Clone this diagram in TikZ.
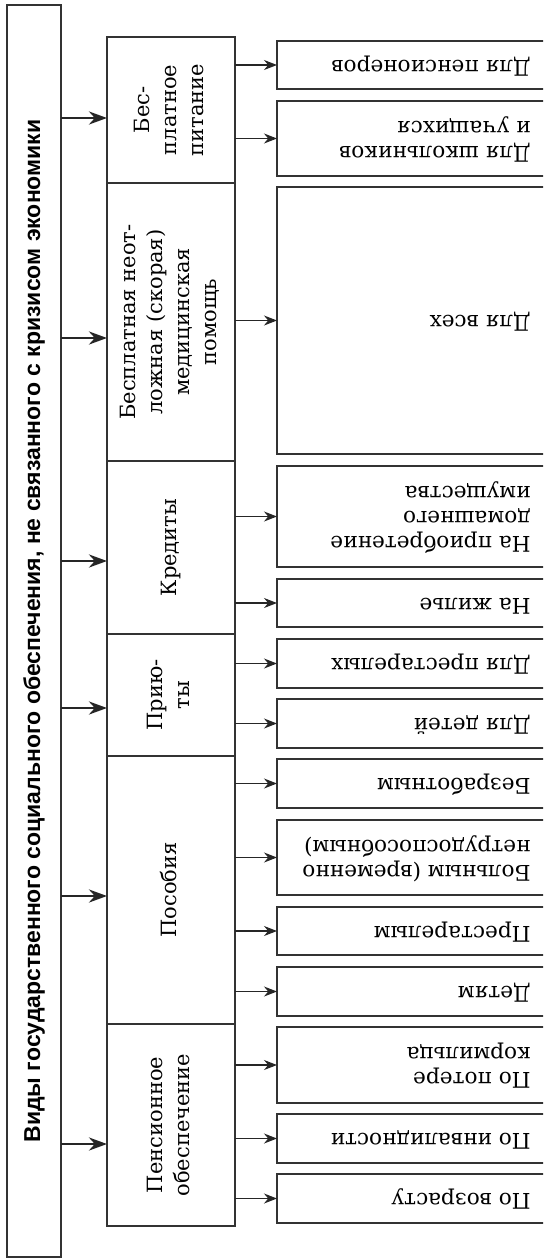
\documentclass[tikz,border=0pt]{standalone}
\usepackage{fontspec}
\setmainfont{DejaVu Serif}
\newfontfamily\headfont{Liberation Sans}
\usepackage{graphicx}
\usetikzlibrary{arrows.meta}

\tikzset{
  box/.style={draw=black!80, line width=0.8pt, inner sep=0pt, outer sep=0pt,
    minimum width=64pt, font=\fontsize{10.5}{13.5}\selectfont},
  rbox/.style={draw=black!80, line width=0.8pt, inner sep=0pt, outer sep=0pt,
    minimum width=141.5pt, anchor=west},
  rtext/.style={inner sep=0pt, anchor=east, font=\fontsize{10.8}{12.5}\selectfont},
  bigarrow/.style={draw=black!85, line width=1.4pt, -{Stealth[length=9pt,width=6.5pt]}},
  smallarrow/.style={draw=black!85, line width=0.6pt, -{Stealth[length=6.5pt,width=5pt]}}
}
\newcommand{\vtext}[1]{\rotatebox{90}{\begin{tabular}{@{}c@{}}#1\end{tabular}}}
\newcommand{\utext}[1]{\rotatebox{180}{\begin{tabular}{@{}l@{}}#1\end{tabular}}}

\begin{document}
\begin{tikzpicture}[x=0.5pt,y=0.5pt,yscale=-1,xscale=1]
\useasboundingbox (0,0) rectangle (543,1258);
\clip (0,0) rectangle (543,1258);

% Title box
\node [draw=black!80, line width=0.8pt, inner sep=0pt, outer sep=0pt,
  minimum width=27pt, minimum height=626pt] (vidy) at (34,631)
  {\rotatebox{90}{\headfont\bfseries\fontsize{11.5}{13}\selectfont Виды государственного социального обеспечения, не связанного с кризисом экономики}};

% Middle column
\node [box, minimum height=73pt] (pit) at (171,110) {\vtext{Бес-\\платное\\питание}};
\node [box, minimum height=139pt] (med) at (171,322) {\vtext{Бесплатная неот-\\ложная (скорая)\\медицинская\\помощь}};
\node [box, minimum height=86.5pt] (kred) at (171,547.5) {\vtext{Кредиты}};
\node [box, minimum height=61pt] (priut) at (171,695) {\vtext{Прию-\\ты}};
\node [box, minimum height=134pt] (posob) at (171,890) {\vtext{Пособия}};
\node [box, minimum height=101pt] (pens) at (171,1125) {\vtext{Пенсионное\\обеспечение}};

% Right column
\node [rbox, minimum height=24pt] (penser) at (277,65) {};
\node [rbox, minimum height=37.5pt] (shkol) at (277,138.5) {};
\node [rbox, minimum height=133.5pt] (vseh) at (277,320.5) {};
\node [rbox, minimum height=50.5pt] (imush) at (277,516.5) {};
\node [rbox, minimum height=24pt] (zhil) at (277,603) {};
\node [rbox, minimum height=24.5pt] (prest) at (277,663.5) {};
\node [rbox, minimum height=24.5pt] (detei) at (277,723.5) {};
\node [rbox, minimum height=24.5pt] (bezrab) at (277,783.5) {};
\node [rbox, minimum height=37.5pt] (boln) at (277,857.5) {};
\node [rbox, minimum height=24pt] (prestar) at (277,931) {};
\node [rbox, minimum height=24.5pt] (detyam) at (277,991.5) {};
\node [rbox, minimum height=38pt] (korm) at (277,1065) {};
\node [rbox, minimum height=24.5pt] (invalid) at (277,1138.5) {};
\node [rbox, minimum height=24.5pt] (vozrast) at (277,1198.5) {};

% Text Node
\node [rtext] (penser-t) at (531,65) {\utext{Для пенсионеров}};
\node [rtext] (shkol-t) at (531,138.5) {\utext{Для школьников\\и учащихся}};
\node [rtext] (vseh-t) at (531,320.5) {\utext{Для всех}};
\node [rtext] (imush-t) at (531,516.5) {\utext{На приобретение\\домашнего\\имущества}};
\node [rtext] (zhil-t) at (531,603) {\utext{На жилье}};
\node [rtext] (prest-t) at (531,663.5) {\utext{Для престарелых}};
\node [rtext] (detei-t) at (531,723.5) {\utext{Для детей}};
\node [rtext] (bezrab-t) at (531,783.5) {\utext{Безработным}};
\node [rtext] (boln-t) at (531,857.5) {\utext{Больным (временно\\нетрудоспособным)}};
\node [rtext] (prestar-t) at (531,931) {\utext{Престарелым}};
\node [rtext] (detyam-t) at (531,991.5) {\utext{Детям}};
\node [rtext] (korm-t) at (531,1065) {\utext{По потере\\кормильца}};
\node [rtext] (invalid-t) at (531,1138.5) {\utext{По инвалидности}};
\node [rtext] (vozrast-t) at (531,1198.5) {\utext{По возрасту}};

%Straight Lines
\draw [bigarrow] (vidy.east |- 0,118) -- (pit.west |- 0,118);
\draw [bigarrow] (vidy.east |- 0,338) -- (med.west |- 0,338);
\draw [bigarrow] (vidy.east |- 0,561) -- (kred.west |- 0,561);
\draw [bigarrow] (vidy.east |- 0,708) -- (priut.west |- 0,708);
\draw [bigarrow] (vidy.east |- 0,896) -- (posob.west |- 0,896);
\draw [bigarrow] (vidy.east |- 0,1144) -- (pens.west |- 0,1144);

%Straight Lines
\draw [smallarrow] (pit.east |- penser.west) -- (penser.west);
\draw [smallarrow] (pit.east |- shkol.west) -- (shkol.west);
\draw [smallarrow] (med.east |- vseh.west) -- (vseh.west);
\draw [smallarrow] (kred.east |- imush.west) -- (imush.west);
\draw [smallarrow] (kred.east |- zhil.west) -- (zhil.west);
\draw [smallarrow] (priut.east |- prest.west) -- (prest.west);
\draw [smallarrow] (priut.east |- detei.west) -- (detei.west);
\draw [smallarrow] (posob.east |- bezrab.west) -- (bezrab.west);
\draw [smallarrow] (posob.east |- boln.west) -- (boln.west);
\draw [smallarrow] (posob.east |- prestar.west) -- (prestar.west);
\draw [smallarrow] (posob.east |- detyam.west) -- (detyam.west);
\draw [smallarrow] (pens.east |- korm.west) -- (korm.west);
\draw [smallarrow] (pens.east |- invalid.west) -- (invalid.west);
\draw [smallarrow] (pens.east |- vozrast.west) -- (vozrast.west);
\end{tikzpicture}
\end{document}
